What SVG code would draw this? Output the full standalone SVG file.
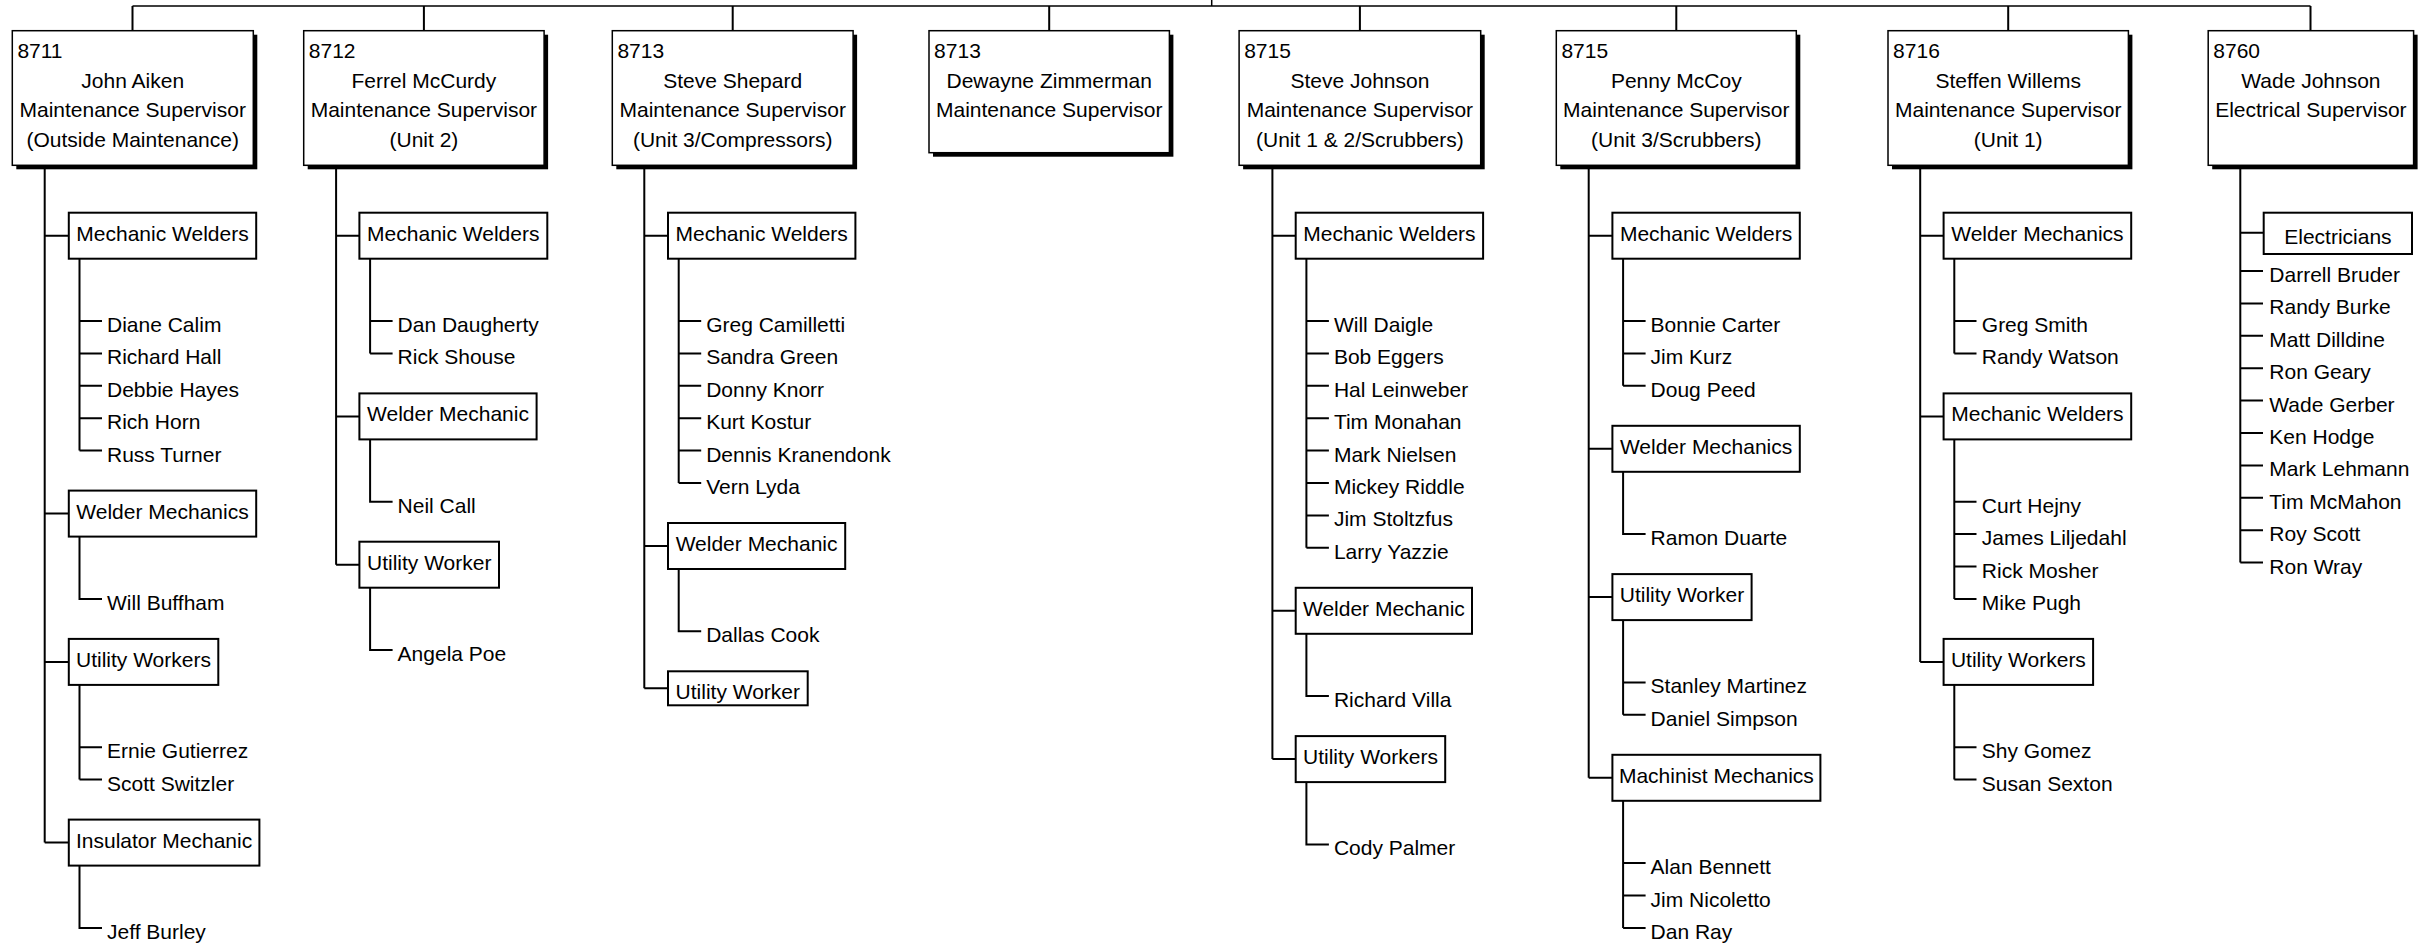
<svg xmlns="http://www.w3.org/2000/svg" width="2422" height="945" viewBox="0 0 2422 945">
<style>
text{font-family:"Liberation Sans",Arial,sans-serif;font-size:21px;fill:#000}
.c{text-anchor:middle}
.sh{fill:#000}
.tb{fill:#fff;stroke:#000;stroke-width:1.5}
.gb{fill:#fff;stroke:#000;stroke-width:2}
.ln{fill:none;stroke:#000;stroke-width:2}
.top{fill:none;stroke:#000;stroke-width:1.5}
</style>
<rect width="2422" height="945" fill="#fff"/>
<g id="connectors">
<path class="top" d="M132.5 6H2310.5M1211.7 0V6"/>
<path class="ln" d="M132.5 6V30.7M423.9 6V30.7M732.7 6V30.7M1049.2 6V30.7M1359.9 6V30.7M1676.3 6V30.7M2008.2 6V30.7M2310.5 6V30.7"/>
<!-- col1 -->
<path class="ln" d="M44.7 165.3V842.6M44.7 235.7H68.8M44.7 513.6H68.8M44.7 661.9H68.8M44.7 842.6H68.8"/>
<path class="ln" d="M79.5 258.7V450.6M79.5 321H102M79.5 353.4H102M79.5 385.8H102M79.5 418.2H102M79.5 450.6H102"/>
<path class="ln" d="M79.5 536.6V598.9H102M79.5 684.9V779.6M79.5 747.2H102M79.5 779.6H102M79.5 865.6V927.9H102"/>
<!-- col2 -->
<path class="ln" d="M336.1 165.3V564.7M336.1 235.7H359.4M336.1 416.4H359.4M336.1 564.7H359.4"/>
<path class="ln" d="M370.1 258.7V353.4M370.1 321H392.6M370.1 353.4H392.6M370.1 439.4V501.7H392.6M370.1 587.7V650H392.6"/>
<!-- col3 -->
<path class="ln" d="M644.3 165.3V688.3M644.3 235.7H668M644.3 546H668M644.3 688.3H668"/>
<path class="ln" d="M678.7 258.7V483M678.7 321H701.2M678.7 353.4H701.2M678.7 385.8H701.2M678.7 418.2H701.2M678.7 450.6H701.2M678.7 483H701.2M678.7 569V631.3H701.2"/>
<!-- col5 -->
<path class="ln" d="M1272.4 165.3V759.1M1272.4 235.7H1295.7M1272.4 610.8H1295.7M1272.4 759.1H1295.7"/>
<path class="ln" d="M1306.4 258.7V547.8M1306.4 321H1328.9M1306.4 353.4H1328.9M1306.4 385.8H1328.9M1306.4 418.2H1328.9M1306.4 450.6H1328.9M1306.4 483H1328.9M1306.4 515.4H1328.9M1306.4 547.8H1328.9M1306.4 633.8V696.1H1328.9M1306.4 782.1V844.4H1328.9"/>
<!-- col6 -->
<path class="ln" d="M1588.7 165.3V777.8M1588.7 235.7H1612.4M1588.7 448.8H1612.4M1588.7 597.1H1612.4M1588.7 777.8H1612.4"/>
<path class="ln" d="M1623.1 258.7V385.8M1623.1 321H1645.6M1623.1 353.4H1645.6M1623.1 385.8H1645.6M1623.1 471.8V534.1H1645.6M1623.1 620.1V714.8M1623.1 682.4H1645.6M1623.1 714.8H1645.6M1623.1 800.8V927.9M1623.1 863.1H1645.6M1623.1 895.5H1645.6M1623.1 927.9H1645.6"/>
<!-- col7 -->
<path class="ln" d="M1920.2 165.3V661.9M1920.2 235.7H1943.6M1920.2 416.4H1943.6M1920.2 661.9H1943.6"/>
<path class="ln" d="M1954.3 258.7V353.4M1954.3 321H1976.5M1954.3 353.4H1976.5M1954.3 439.4V598.9M1954.3 501.7H1976.5M1954.3 534.1H1976.5M1954.3 566.5H1976.5M1954.3 598.9H1976.5M1954.3 684.9V779.6M1954.3 747.2H1976.5M1954.3 779.6H1976.5"/>
<!-- col8 -->
<path class="ln" d="M2240.3 165.3V562.6M2240.3 232.7H2263.7M2240.3 271H2263M2240.3 303.4H2263M2240.3 335.8H2263M2240.3 368.2H2263M2240.3 400.6H2263M2240.3 433H2263M2240.3 465.4H2263M2240.3 497.8H2263M2240.3 530.2H2263M2240.3 562.6H2263"/>
</g>

<g id="n8711">
<rect class="sh" x="16.3" y="34.7" width="241" height="134.6"/>
<rect class="tb" x="12.3" y="30.7" width="241" height="134.6"/>
<text x="17.4" y="58">8711</text>
<text class="c" x="132.7" y="87.5">John Aiken</text>
<text class="c" x="132.7" y="117">Maintenance Supervisor</text>
<text class="c" x="132.7" y="146.5">(Outside Maintenance)</text>
</g>
<g id="n8712">
<rect class="sh" x="307.7" y="34.7" width="240.4" height="134.6"/>
<rect class="tb" x="303.7" y="30.7" width="240.4" height="134.6"/>
<text x="308.8" y="58">8712</text>
<text class="c" x="423.9" y="87.5">Ferrel McCurdy</text>
<text class="c" x="423.9" y="117">Maintenance Supervisor</text>
<text class="c" x="423.9" y="146.5">(Unit 2)</text>
</g>
<g id="n8713a">
<rect class="sh" x="616.3" y="34.7" width="240.8" height="134.6"/>
<rect class="tb" x="612.3" y="30.7" width="240.8" height="134.6"/>
<text x="617.4" y="58">8713</text>
<text class="c" x="732.7" y="87.5">Steve Shepard</text>
<text class="c" x="732.7" y="117">Maintenance Supervisor</text>
<text class="c" x="732.7" y="146.5">(Unit 3/Compressors)</text>
</g>
<g id="n8713b">
<rect class="sh" x="933" y="34.7" width="240.4" height="122"/>
<rect class="tb" x="929" y="30.7" width="240.4" height="122"/>
<text x="934.1" y="58">8713</text>
<text class="c" x="1049.2" y="87.5">Dewayne Zimmerman</text>
<text class="c" x="1049.2" y="117">Maintenance Supervisor</text>
</g>
<g id="n8715a">
<rect class="sh" x="1243.1" y="34.7" width="241.6" height="134.6"/>
<rect class="tb" x="1239.1" y="30.7" width="241.6" height="134.6"/>
<text x="1244.2" y="58">8715</text>
<text class="c" x="1359.9" y="87.5">Steve Johnson</text>
<text class="c" x="1359.9" y="117">Maintenance Supervisor</text>
<text class="c" x="1359.9" y="146.5">(Unit 1 &amp; 2/Scrubbers)</text>
</g>
<g id="n8715b">
<rect class="sh" x="1560.3" y="34.7" width="240" height="134.6"/>
<rect class="tb" x="1556.3" y="30.7" width="240" height="134.6"/>
<text x="1561.4" y="58">8715</text>
<text class="c" x="1676.3" y="87.5">Penny McCoy</text>
<text class="c" x="1676.3" y="117">Maintenance Supervisor</text>
<text class="c" x="1676.3" y="146.5">(Unit 3/Scrubbers)</text>
</g>
<g id="n8716">
<rect class="sh" x="1892" y="34.7" width="240.4" height="134.6"/>
<rect class="tb" x="1888" y="30.7" width="240.4" height="134.6"/>
<text x="1893.1" y="58">8716</text>
<text class="c" x="2008.2" y="87.5">Steffen Willems</text>
<text class="c" x="2008.2" y="117">Maintenance Supervisor</text>
<text class="c" x="2008.2" y="146.5">(Unit 1)</text>
</g>
<g id="n8760">
<rect class="sh" x="2212.2" y="34.7" width="205.4" height="134.6"/>
<rect class="tb" x="2208.2" y="30.7" width="205.4" height="134.6"/>
<text x="2213.3" y="58">8760</text>
<text class="c" x="2310.9" y="87.5">Wade Johnson</text>
<text class="c" x="2310.9" y="117">Electrical Supervisor</text>
</g>

<!-- column 1 groups -->
<g id="c1-mw"><rect class="gb" x="68.8" y="212.7" width="187.4" height="46"/><text class="c" x="162.5" y="240.7">Mechanic Welders</text>
<text x="107" y="332">Diane Calim</text><text x="107" y="364.4">Richard Hall</text><text x="107" y="396.8">Debbie Hayes</text><text x="107" y="429.2">Rich Horn</text><text x="107" y="461.6">Russ Turner</text></g>
<g id="c1-wm"><rect class="gb" x="68.8" y="490.6" width="187.4" height="46"/><text class="c" x="162.5" y="518.6">Welder Mechanics</text>
<text x="107" y="609.9">Will Buffham</text></g>
<g id="c1-uw"><rect class="gb" x="68.8" y="638.9" width="149.5" height="46"/><text class="c" x="143.5" y="666.9">Utility Workers</text>
<text x="107" y="758.2">Ernie Gutierrez</text><text x="107" y="790.6">Scott Switzler</text></g>
<g id="c1-im"><rect class="gb" x="68.8" y="819.6" width="190.6" height="46"/><text class="c" x="164.1" y="847.6">Insulator Mechanic</text>
<text x="107" y="938.9">Jeff Burley</text></g>

<!-- column 2 -->
<g id="c2-mw"><rect class="gb" x="359.4" y="212.7" width="187.9" height="46"/><text class="c" x="453.3" y="240.7">Mechanic Welders</text>
<text x="397.6" y="332">Dan Daugherty</text><text x="397.6" y="364.4">Rick Shouse</text></g>
<g id="c2-wm"><rect class="gb" x="359.4" y="393.4" width="177.2" height="46"/><text class="c" x="448" y="421.4">Welder Mechanic</text>
<text x="397.6" y="512.7">Neil Call</text></g>
<g id="c2-uw"><rect class="gb" x="359.4" y="541.7" width="139.6" height="46"/><text class="c" x="429.2" y="569.7">Utility Worker</text>
<text x="397.6" y="661">Angela Poe</text></g>

<!-- column 3 -->
<g id="c3-mw"><rect class="gb" x="668" y="212.7" width="187.4" height="46"/><text class="c" x="761.7" y="240.7">Mechanic Welders</text>
<text x="706.2" y="332">Greg Camilletti</text><text x="706.2" y="364.4">Sandra Green</text><text x="706.2" y="396.8">Donny Knorr</text><text x="706.2" y="429.2">Kurt Kostur</text><text x="706.2" y="461.6">Dennis Kranendonk</text><text x="706.2" y="494">Vern Lyda</text></g>
<g id="c3-wm"><rect class="gb" x="668" y="523" width="177.2" height="46"/><text class="c" x="756.6" y="551">Welder Mechanic</text>
<text x="706.2" y="642.3">Dallas Cook</text></g>
<g id="c3-uw"><rect class="gb" x="668" y="671.3" width="139.7" height="34"/><text class="c" x="737.8" y="699.3">Utility Worker</text></g>

<!-- column 5 -->
<g id="c5-mw"><rect class="gb" x="1295.7" y="212.7" width="187.4" height="46"/><text class="c" x="1389.4" y="240.7">Mechanic Welders</text>
<text x="1333.9" y="332">Will Daigle</text><text x="1333.9" y="364.4">Bob Eggers</text><text x="1333.9" y="396.8">Hal Leinweber</text><text x="1333.9" y="429.2">Tim Monahan</text><text x="1333.9" y="461.6">Mark Nielsen</text><text x="1333.9" y="494">Mickey Riddle</text><text x="1333.9" y="526.4">Jim Stoltzfus</text><text x="1333.9" y="558.8">Larry Yazzie</text></g>
<g id="c5-wm"><rect class="gb" x="1295.7" y="587.8" width="176.3" height="46"/><text class="c" x="1383.9" y="615.8">Welder Mechanic</text>
<text x="1333.9" y="707.1">Richard Villa</text></g>
<g id="c5-uw"><rect class="gb" x="1295.7" y="736.1" width="149.5" height="46"/><text class="c" x="1370.5" y="764.1">Utility Workers</text>
<text x="1333.9" y="855.4">Cody Palmer</text></g>

<!-- column 6 -->
<g id="c6-mw"><rect class="gb" x="1612.4" y="212.7" width="187.4" height="46"/><text class="c" x="1706.1" y="240.7">Mechanic Welders</text>
<text x="1650.6" y="332">Bonnie Carter</text><text x="1650.6" y="364.4">Jim Kurz</text><text x="1650.6" y="396.8">Doug Peed</text></g>
<g id="c6-wm"><rect class="gb" x="1612.4" y="425.8" width="187.4" height="46"/><text class="c" x="1706.1" y="453.8">Welder Mechanics</text>
<text x="1650.6" y="545.1">Ramon Duarte</text></g>
<g id="c6-uw"><rect class="gb" x="1612.4" y="574.1" width="139.2" height="46"/><text class="c" x="1682" y="602.1">Utility Worker</text>
<text x="1650.6" y="693.4">Stanley Martinez</text><text x="1650.6" y="725.8">Daniel Simpson</text></g>
<g id="c6-mm"><rect class="gb" x="1612.4" y="754.8" width="208" height="46"/><text class="c" x="1716.4" y="782.8">Machinist Mechanics</text>
<text x="1650.6" y="874.1">Alan Bennett</text><text x="1650.6" y="906.5">Jim Nicoletto</text><text x="1650.6" y="938.9">Dan Ray</text></g>

<!-- column 7 -->
<g id="c7-wm"><rect class="gb" x="1943.6" y="212.7" width="187.6" height="46"/><text class="c" x="2037.4" y="240.7">Welder Mechanics</text>
<text x="1981.8" y="332">Greg Smith</text><text x="1981.8" y="364.4">Randy Watson</text></g>
<g id="c7-mw"><rect class="gb" x="1943.6" y="393.4" width="187.6" height="46"/><text class="c" x="2037.4" y="421.4">Mechanic Welders</text>
<text x="1981.8" y="512.7">Curt Hejny</text><text x="1981.8" y="545.1">James Liljedahl</text><text x="1981.8" y="577.5">Rick Mosher</text><text x="1981.8" y="609.9">Mike Pugh</text></g>
<g id="c7-uw"><rect class="gb" x="1943.6" y="638.9" width="149.5" height="46"/><text class="c" x="2018.4" y="666.9">Utility Workers</text>
<text x="1981.8" y="758.2">Shy Gomez</text><text x="1981.8" y="790.6">Susan Sexton</text></g>

<!-- column 8 -->
<g id="c8-el"><rect class="gb" x="2263.7" y="212.7" width="148.3" height="41.3"/><text class="c" x="2337.9" y="244">Electricians</text>
<text x="2269.3" y="282">Darrell Bruder</text><text x="2269.3" y="314.4">Randy Burke</text><text x="2269.3" y="346.8">Matt Dilldine</text><text x="2269.3" y="379.2">Ron Geary</text><text x="2269.3" y="411.6">Wade Gerber</text><text x="2269.3" y="444">Ken Hodge</text><text x="2269.3" y="476.4">Mark Lehmann</text><text x="2269.3" y="508.8">Tim McMahon</text><text x="2269.3" y="541.2">Roy Scott</text><text x="2269.3" y="573.6">Ron Wray</text></g>
</svg>
